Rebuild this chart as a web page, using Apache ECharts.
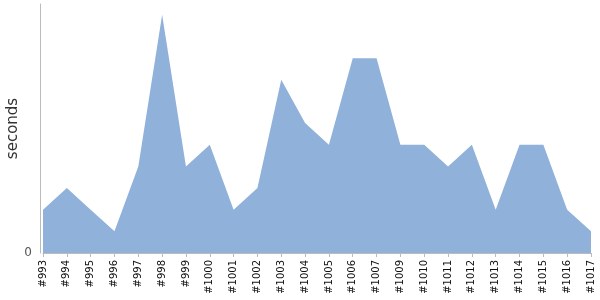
<!DOCTYPE html>
<html><head><meta charset="utf-8">
<script src="https://cdn.jsdelivr.net/npm/echarts@6/dist/echarts.min.js"></script>
<style>html,body{margin:0;padding:0;background:#fff}#c{width:600px;height:300px}</style>
</head><body><div id="c"></div>
<script>
var categories = ['#993','#994','#995','#996','#997','#998','#999','#1000','#1001','#1002','#1003','#1004','#1005','#1006','#1007','#1009','#1010','#1011','#1012','#1013','#1014','#1015','#1016','#1017'];
var seconds = [2,3,2,1,4,11,4,5,2,3,8,6,5,9,9,5,5,4,5,2,5,5,2,1];
var yTicks = [0];
var chart = echarts.init(document.getElementById('c'));
chart.setOption({
  animation: false,
  grid: {left: 43, right: 9, top: 4, bottom: 47, containLabel: false, outerBoundsMode: 'none'},
  xAxis: {
    type: 'category', data: categories, boundaryGap: false,
    axisLine: {lineStyle: {color: '#bbb'}},
    axisTick: {alignWithLabel: true, length: 4, lineStyle: {color: '#bbb'}},
    axisLabel: {rotate: 90, interval: 0, fontSize: 10, color: '#111', fontFamily: 'DejaVu Sans', margin: 7}
  },
  yAxis: {
    type: 'value', min: 0, max: 11.5, offset: 3,
    name: 'seconds', nameLocation: 'middle', nameGap: 19, nameMoveOverlap: false,
    nameTextStyle: {fontSize: 15, color: '#333', fontFamily: 'DejaVu Sans'},
    axisLine: {show: true, lineStyle: {color: '#bbb'}},
    axisTick: {show: false},
    splitLine: {show: false},
    axisLabel: {fontSize: 12, color: '#555', fontFamily: 'DejaVu Sans', margin: 8, customValues: yTicks}
  },
  series: [{
    type: 'line', data: seconds, symbol: 'none',
    lineStyle: {width: 0, color: '#8fb1da'},
    areaStyle: {color: '#8fb1da', opacity: 1}
  }]
});
</script></body></html>
